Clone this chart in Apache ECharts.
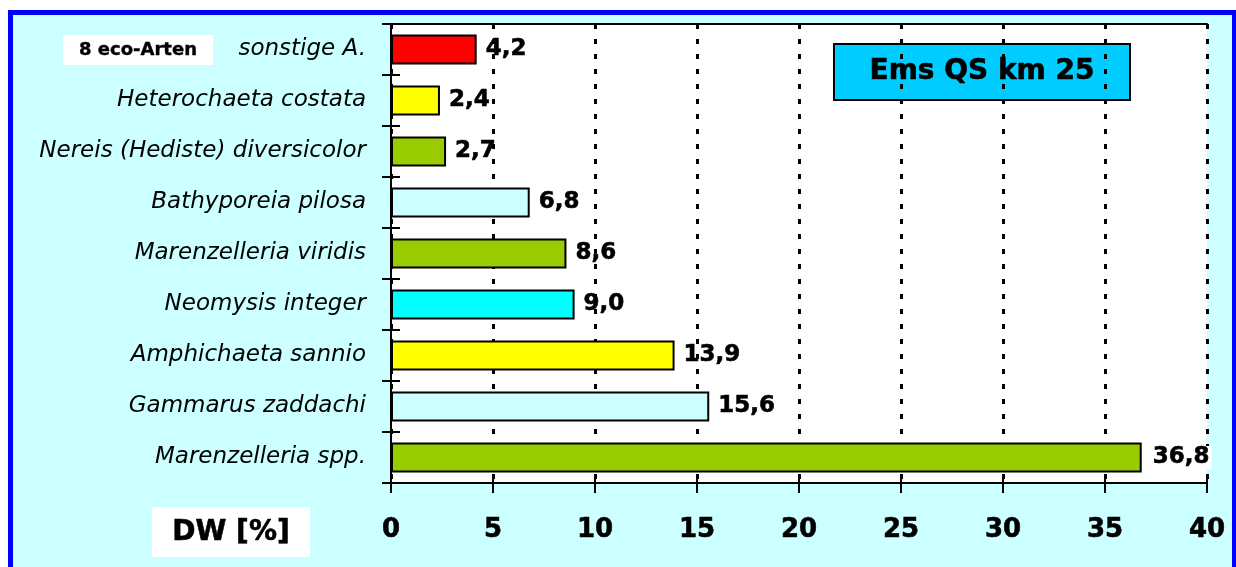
<!DOCTYPE html>
<html>
<head>
<meta charset="utf-8">
<script src="https://cdn.jsdelivr.net/npm/echarts@6/dist/echarts.min.js"></script>
<style>
  html, body { margin: 0; padding: 0; background: #ffffff; overflow: hidden; }
  #frame { position: absolute; left: 8px; top: 10px; width: 1229px; height: 700px;
           box-sizing: border-box; border: 5px solid #0000ff; background: #ccffff; }
  #chart { position: absolute; left: 0; top: 0; width: 1236px; height: 567px; }
</style>
</head>
<body>
<div id="frame"></div>
<div id="chart"></div>
<script>
// Species, listed bottom to top as drawn on the category axis
const species = [
  'Marenzelleria spp.',
  'Gammarus zaddachi',
  'Amphichaeta sannio',
  'Neomysis integer',
  'Marenzelleria viridis',
  'Bathyporeia pilosa',
  'Nereis (Hediste) diversicolor',
  'Heterochaeta costata',
  'sonstige A.'
];
// Share of dry weight (%)
const dwPercent = [36.8, 15.6, 13.9, 9.0, 8.6, 6.8, 2.7, 2.4, 4.2];
// Bar fill per species
const barColors = ['#99cc00', '#ccffff', '#ffff00', '#00ffff', '#99cc00', '#ccffff', '#99cc00', '#ffff00', '#ff0000'];
const xTicks = [0, 5, 10, 15, 20, 25, 30, 35, 40];

const chart = echarts.init(document.getElementById('chart'), null, { renderer: 'canvas' });
const FONT = '"DejaVu Sans", Verdana, sans-serif';
const fmt = v => v.toFixed(1).replace('.', ',');

const xMin = xTicks[0], xMax = xTicks[xTicks.length - 1], xStep = xTicks[1] - xTicks[0];

chart.setOption({
  backgroundColor: 'transparent',
  animation: false,
  grid: { left: 391, right: 29, top: 24, bottom: 84, show: true, backgroundColor: '#ffffff', borderWidth: 0 },
  xAxis: [
    {
      type: 'value', min: xMin, max: xMax, interval: xStep, position: 'bottom',
      axisLine: { show: true, lineStyle: { color: '#000', width: 2 } },
      axisTick: { show: true, length: 10, lineStyle: { color: '#000', width: 2 } },
      axisLabel: { margin: 34, color: '#000', fontFamily: FONT, fontWeight: 'bold', fontSize: 26,
                   textBorderColor: '#000', textBorderWidth: 0.6,
                   formatter: v => String(v) },
      splitLine: { show: true, lineStyle: { color: '#000', width: 3, type: [5, 10] } }
    },
    {
      type: 'value', min: xMin, max: xMax, interval: xStep, position: 'bottom',
      axisLine: { show: false },
      axisTick: { show: true, inside: true, length: 8, lineStyle: { color: '#000', width: 2 } },
      axisLabel: { show: false }, splitLine: { show: false }
    },
    {
      type: 'value', min: xMin, max: xMax, interval: xStep, position: 'top',
      axisLine: { show: true, lineStyle: { color: '#000', width: 2 } },
      axisTick: { show: false }, axisLabel: { show: false }, splitLine: { show: false }
    }
  ],
  yAxis: [
    {
      type: 'category', data: species, position: 'left',
      axisLine: { show: true, lineStyle: { color: '#000', width: 2 } },
      axisTick: { show: true, length: 9, lineStyle: { color: '#000', width: 2 } },
      axisLabel: { margin: 25, color: '#000', fontFamily: FONT, fontStyle: 'italic', fontSize: 23 },
      splitLine: { show: false }
    },
    {
      type: 'category', data: species, position: 'left',
      axisLine: { show: false },
      axisTick: { show: true, inside: true, length: 9, lineStyle: { color: '#000', width: 2 } },
      axisLabel: { show: false }, splitLine: { show: false }
    }
  ],
  series: [{
    type: 'bar',
    xAxisIndex: 0, yAxisIndex: 0,
    barWidth: 30,
    data: dwPercent.map((v, i) => {
      const item = { value: v, itemStyle: { color: barColors[i] } };
      if (i === 0) item.label = { backgroundColor: '#ffffff', padding: [0, 2, 0, 2] };
      return item;
    }),
    itemStyle: { borderColor: '#000', borderWidth: 2 },
    label: {
      show: true, position: 'right', distance: 9,
      color: '#000', fontFamily: FONT, fontWeight: 'bold', fontSize: 23,
      textBorderColor: '#000', textBorderWidth: 0.6,
      formatter: p => fmt(p.value)
    },
    z: 3
  }],
  graphic: [
    {
      type: 'group', left: 833, top: 43, z: 100,
      children: [
        { type: 'rect', shape: { x: 0, y: 0, width: 296, height: 56 },
          style: { fill: '#00ccff', stroke: '#000', lineWidth: 2 } },
        { type: 'text', x: 148, y: 28,
          style: { text: 'Ems QS km 25', fill: '#000', font: 'bold 28px ' + FONT, align: 'center', verticalAlign: 'middle',
                   stroke: '#000', lineWidth: 0.6 } }
      ]
    },
    {
      type: 'group', left: 63, top: 35, z: 100,
      children: [
        { type: 'rect', shape: { x: 0, y: 0, width: 150, height: 30 }, style: { fill: '#ffffff' } },
        { type: 'text', x: 75, y: 15,
          style: { text: '8 eco-Arten', fill: '#000', font: 'bold 18px ' + FONT, align: 'center', verticalAlign: 'middle',
                   stroke: '#000', lineWidth: 0.4 } }
      ]
    },
    {
      type: 'group', left: 152, top: 507, z: 100,
      children: [
        { type: 'rect', shape: { x: 0, y: 0, width: 158, height: 50 }, style: { fill: '#ffffff' } },
        { type: 'text', x: 79, y: 26,
          style: { text: 'DW [%]', fill: '#000', font: 'bold 28px ' + FONT, align: 'center', verticalAlign: 'middle',
                   stroke: '#000', lineWidth: 0.6 } }
      ]
    }
  ]
});
</script>
</body>
</html>
